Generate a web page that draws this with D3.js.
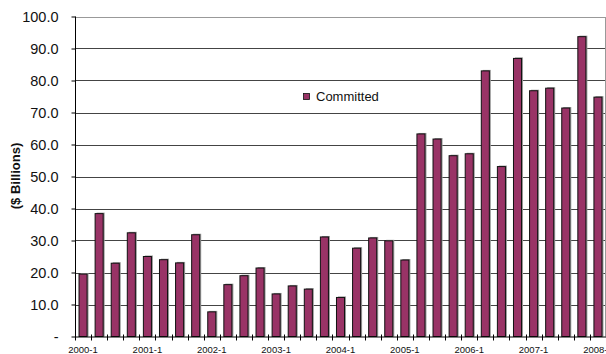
<html>
  <head>
    <title>Committed ($ Billions)</title>
    <script src="https://d3js.org/d3.v7.min.js"></script>
    <style>
      body { margin: 0; background: white; }
      svg { display: block; font-family: "Liberation Sans", Arial, sans-serif; }
    </style>
  </head>
  <body>
    <svg width="606" height="354"></svg>
    <script>
      var quarters = [
        "2000-1","2000-2","2000-3","2000-4",
        "2001-1","2001-2","2001-3","2001-4",
        "2002-1","2002-2","2002-3","2002-4",
        "2003-1","2003-2","2003-3","2003-4",
        "2004-1","2004-2","2004-3","2004-4",
        "2005-1","2005-2","2005-3","2005-4",
        "2006-1","2006-2","2006-3","2006-4",
        "2007-1","2007-2","2007-3","2007-4",
        "2008-1"
      ];
      var committed = [
        19.5, 38.4, 22.9, 32.4,
        25.0, 24.0, 23.0, 31.8,
        7.7, 16.2, 19.0, 21.4,
        13.3, 15.8, 14.8, 31.1,
        12.2, 27.6, 30.8, 29.9,
        23.9, 63.3, 61.7, 56.5,
        57.1, 83.0, 53.1, 86.9,
        76.8, 77.6, 71.4, 93.7,
        74.8
      ];
      var yTicks = [0, 10, 20, 30, 40, 50, 60, 70, 80, 90, 100];
      var seriesName = "Committed";

      var svg = d3.select("svg");
      // note: "top" is a reserved window property, so use plot* names
      var plotLeft = 75, plotRight = 606, plotTop = 16.5, plotBottom = 336.5;

      var x = d3.scaleBand().domain(quarters).range([plotLeft, plotRight])
        .paddingInner(0.5).paddingOuter(0.25);
      var y = d3.scaleLinear().domain([0, 100]).range([plotBottom, plotTop]);
      var step = x.step();

      // gridlines
      svg.append("g").selectAll("line").data(yTicks.filter(function(d){ return d > 0; }))
        .enter().append("line")
        .attr("x1", plotLeft).attr("x2", plotRight)
        .attr("y1", function(d){ return Math.round(y(d)) + 0.5; })
        .attr("y2", function(d){ return Math.round(y(d)) + 0.5; })
        .attr("stroke", function(d){ return d === 100 ? "#999" : "#444"; })
        .attr("stroke-width", 1);

      // right border
      svg.append("line")
        .attr("x1", plotRight - 0.5).attr("x2", plotRight - 0.5)
        .attr("y1", Math.round(y(100)) + 0.5).attr("y2", plotBottom)
        .attr("stroke", "#999");

      // bars: shadow then bar
      var bars = svg.append("g");
      bars.selectAll("rect.shadow").data(committed).enter().append("rect")
        .attr("class", "shadow")
        .attr("x", function(d, i){ return x(quarters[i]) + 1.5; })
        .attr("y", function(d){ return y(d) - 1; })
        .attr("width", x.bandwidth())
        .attr("height", function(d){ return plotBottom - y(d) + 1; })
        .attr("fill", "#999");
      bars.selectAll("rect.bar").data(committed).enter().append("rect")
        .attr("class", "bar")
        .attr("x", function(d, i){ return x(quarters[i]); })
        .attr("y", function(d){ return y(d); })
        .attr("width", x.bandwidth())
        .attr("height", function(d){ return plotBottom - y(d); })
        .attr("fill", "#993366")
        .attr("stroke", "#111")
        .attr("stroke-width", 1);

      // y axis
      var yAxis = d3.axisLeft(y).tickValues(yTicks).tickSize(4)
        .tickFormat(function(d){ return d === 0 ? "-" : d3.format(".1f")(d); });
      var gy = svg.append("g").attr("transform", "translate(" + (plotLeft + 0.5) + ",0)").call(yAxis);
      gy.select(".domain").attr("d", "M0," + plotTop + "V" + plotBottom).attr("stroke", "#000");
      gy.selectAll(".tick text").attr("x", -17).attr("font-size", 14.5).attr("fill", "#111")
        .attr("font-family", "'Liberation Sans', Arial, sans-serif");

      // x axis
      var gx = svg.append("g");
      gx.append("line").attr("x1", plotLeft).attr("x2", plotRight)
        .attr("y1", plotBottom + 0.5).attr("y2", plotBottom + 0.5).attr("stroke", "#000");
      gx.selectAll("line.tick").data(d3.range(quarters.length))
        .enter().append("line").attr("class", "tick")
        .attr("x1", function(i){ return Math.round(plotLeft + i * step) + 0.5; })
        .attr("x2", function(i){ return Math.round(plotLeft + i * step) + 0.5; })
        .attr("y1", plotBottom - 2).attr("y2", plotBottom + 4)
        .attr("stroke", "#000");
      gx.selectAll("text").data(quarters.filter(function(d, i){ return i % 4 === 0; }))
        .enter().append("text")
        .attr("x", function(d){ return x(d) + x.bandwidth() / 2; })
        .attr("y", 353)
        .attr("text-anchor", "middle")
        .attr("font-size", 9.5)
        .attr("fill", "#111")
        .text(function(d){ return d; });

      // y axis title
      svg.append("text")
        .attr("transform", "translate(20,176) rotate(-90)")
        .attr("text-anchor", "middle")
        .attr("font-size", 13)
        .attr("font-weight", "bold")
        .attr("fill", "#111")
        .text("($ Billions)");

      // legend
      svg.append("rect").attr("x", 303.5).attr("y", 93.5).attr("width", 6).attr("height", 6)
        .attr("fill", "#993366").attr("stroke", "#111").attr("stroke-width", 0.8);
      svg.append("text").attr("x", 316).attr("y", 101)
        .attr("font-size", 13).attr("fill", "#111").text(seriesName);
    </script>
  </body>
</html>
